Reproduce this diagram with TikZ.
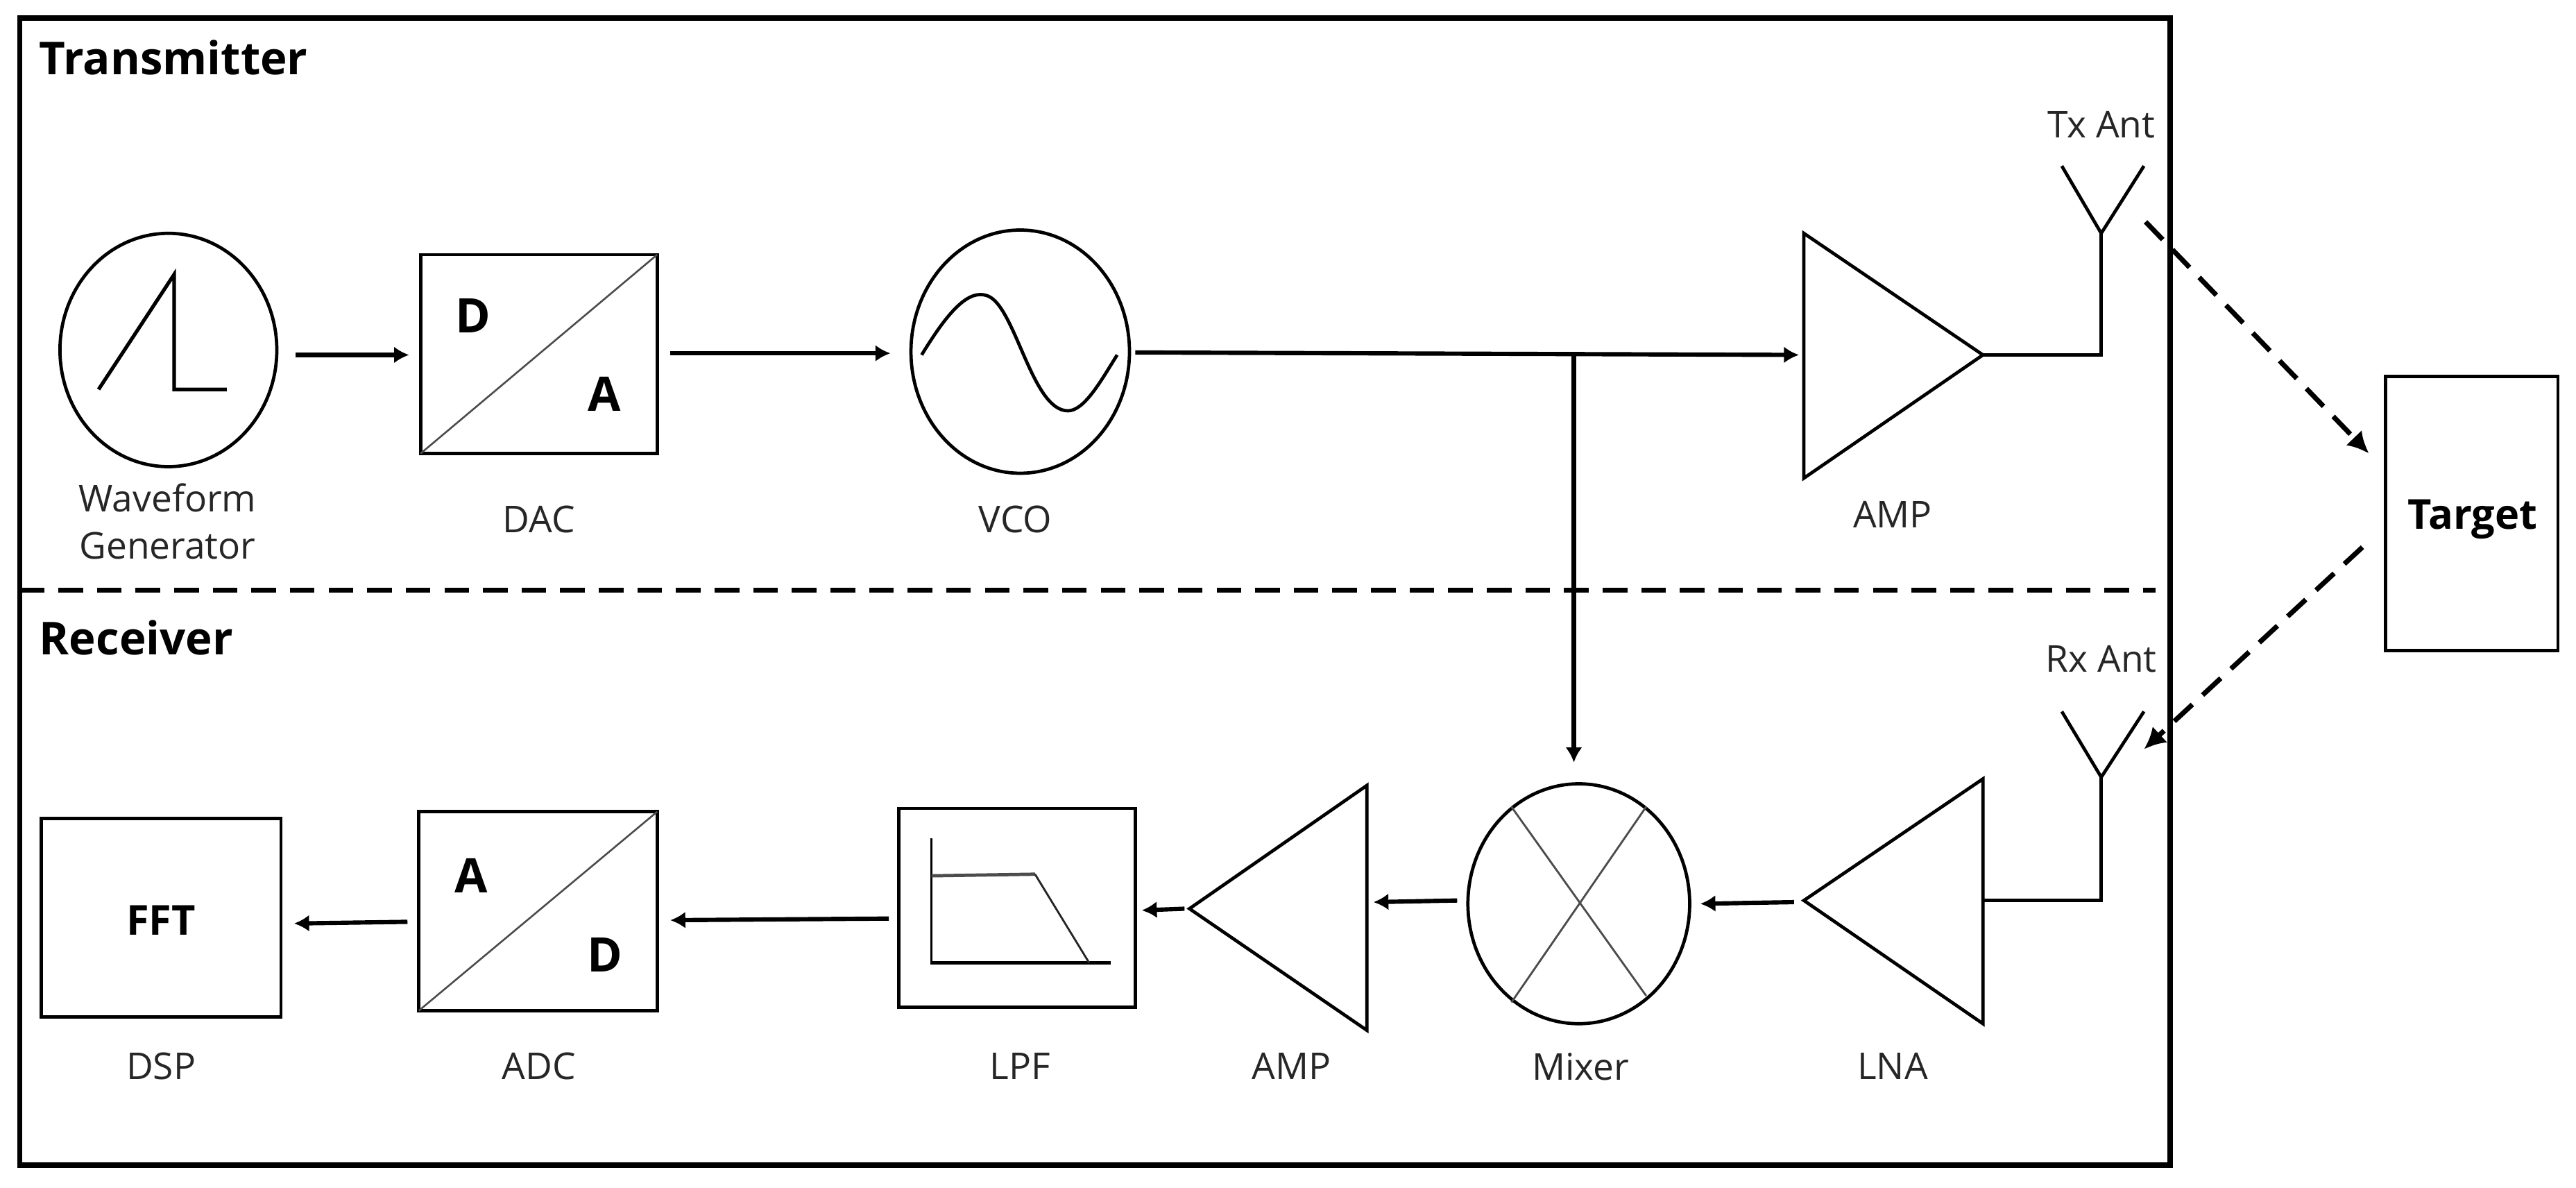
\documentclass[tikz,border=0pt]{standalone}
\usepackage{fontspec}
\setmainfont{Open Sans}
\usetikzlibrary{arrows.meta,shapes.geometric}
\newlength{\un}\setlength{\un}{0.02cm}
\tikzset{
  x=0.02cm,y=-0.02cm,
  shp/.style={draw=black,line width=2\un,inner sep=0pt,outer sep=0pt},
  thinln/.style={draw=black,line width=2\un,line join=miter},
  diag/.style={draw=black!70,line width=1.1\un},
  wire/.style={draw=black,line width=2.6\un,-{Latex[length=5.2pt,width=5.8pt]}},
  dashwire/.style={draw=black,line width=3\un,dash pattern=on 15\un off 8.5\un,-{Latex[length=7.5pt,width=7.5pt]}},
  lab/.style={inner sep=0pt,outer sep=0pt,font=\fontsize{12.8pt}{15pt}\selectfont,text=black!85},
  bold/.style={inner sep=0pt,outer sep=0pt,font=\fontsize{16.5pt}{18pt}\selectfont\bfseries},
  boldsm/.style={inner sep=0pt,outer sep=0pt,font=\fontsize{14.3pt}{16pt}\selectfont\bfseries},
  head/.style={inner sep=0pt,outer sep=0pt,anchor=west,font=\fontsize{15.7pt}{18pt}\selectfont\bfseries}
}
\begin{document}
\begin{tikzpicture}
\useasboundingbox (0,0) rectangle (1568,722.97);
\fill[white] (0,0) rectangle (1568,722.97);
% frame
\draw[line width=3.2\un] (12,11) rectangle (1321,709);
\coordinate (divL) at (12,359);
\coordinate (divR) at (1312,359);
\draw[line width=3\un,dash pattern=on 15\un off 8.5\un] (divL) -- (divR);
\node[head] (tx) at (24,35) {Transmitter};
\node[head] (rx) at (24,388) {Receiver};
% waveform generator
\node[shp,ellipse,minimum width=132\un,minimum height=142\un] (wg) at (102.5,213) {};
\draw[thinln,line width=2.2\un] (60,237) -- (106,167) -- (106,237) -- (138,237);
\node[lab] (wgl1) at (102,303) {Waveform};
\node[lab] (wgl2) at (102,332) {Generator};
% DAC
\node[shp,rectangle,minimum width=144\un,minimum height=121\un] (dac) at (328,215.5) {};
\draw[diag] (dac.south west) -- (dac.north east);
\node[bold] (dacd) at (288,192) {D};
\node[bold] (daca) at (368,240) {A};
\node[lab] (dacl) at (328,316) {DAC};
% VCO
\node[shp,ellipse,minimum width=133\un,minimum height=148\un] (vco) at (621,214) {};
\draw[thinln] (561,216) .. controls (578,188) and (590,176) .. (601,180)
  .. controls (618,186) and (628,250) .. (650,250)
  .. controls (660,250) and (670,232) .. (680,216);
\node[lab] (vcol) at (618,316) {VCO};
% AMP tx
\coordinate (a1a) at (1098,142);
\coordinate (a1b) at (1098,291);
\coordinate (a1o) at (1207,216);
\draw[thinln] (a1a) -- (a1o) -- (a1b) -- cycle;
\node[lab] (a1l) at (1152,313) {AMP};
% Tx antenna
\coordinate (txb) at (1279,142);
\draw[thinln] (a1o) -- (1279,216) -- (txb);
\draw[thinln] (1255,101) -- (txb) -- (1305,101);
\node[lab] (txl) at (1279,76) {Tx Ant};
% target
\node[shp,rectangle,minimum width=105\un,minimum height=167\un] (tgt) at (1504.5,312.5) {};
\node[boldsm] (tgtl) at (1505,316) {Target};
% Rx antenna
\coordinate (rxb) at (1279,473);
\draw[thinln] (1255,433) -- (rxb) -- (1305,433);
\node[lab] (rxl) at (1279,401) {Rx Ant};
% LNA
\coordinate (l1a) at (1207,474);
\coordinate (l1b) at (1207,623);
\coordinate (l1o) at (1207,548);
\coordinate (l1i) at (1098,548);
\draw[thinln] (l1a) -- (l1i) -- (l1b) -- cycle;
\draw[thinln] (rxb) -- (1279,548) -- (l1o);
\node[lab] (lnal) at (1152,649) {LNA};
% Mixer
\node[shp,ellipse,minimum width=135\un,minimum height=146\un] (mix) at (961,550) {};
\draw[diag,line width=1.2\un] (920,491) -- (1002,606);
\draw[diag,line width=1.2\un] (1002,491) -- (920,610);
\node[lab] (mixl) at (962,649) {Mixer};
% AMP rx
\coordinate (a2a) at (832,478);
\coordinate (a2b) at (832,627);
\coordinate (a2o) at (724,553);
\draw[thinln] (a2a) -- (a2o) -- (a2b) -- cycle;
\node[lab] (a2l) at (786,649) {AMP};
% LPF
\node[shp,rectangle,minimum width=144\un,minimum height=121\un] (lpf) at (619,552.5) {};
\draw[draw=black,line width=1.2\un] (567,510) -- (567,586);
\draw[draw=black,line width=2\un] (566.5,586) -- (676,586);
\draw[draw=black!70,line width=2\un] (567,533) -- (630,532);
\draw[draw=black!85,line width=1.2\un] (630,532) -- (663,586);
\node[lab] (lpfl) at (621,649) {LPF};
% ADC
\node[shp,rectangle,minimum width=145\un,minimum height=121\un] (adc) at (327.5,554.5) {};
\draw[diag] (adc.south west) -- (adc.north east);
\node[bold] (adca) at (287,533) {A};
\node[bold] (adcd) at (368,581) {D};
\node[lab] (adcl) at (328,649) {ADC};
% DSP
\node[shp,rectangle,minimum width=146\un,minimum height=121\un] (dsp) at (98,558.5) {};
\node[boldsm] (fft) at (98,560) {FFT};
\node[lab] (dspl) at (98,649) {DSP};
% arrow end points
\coordinate (w1) at (180,216); \coordinate (w2) at (249,216);
\coordinate (w3) at (408,215); \coordinate (w4) at (542,215);
\coordinate (w5) at (691,214.5); \coordinate (w6) at (1095,216);
\coordinate (j) at (958,216); \coordinate (w7) at (958,464);
\coordinate (t1) at (1306,135); \coordinate (t2) at (1442,276);
\coordinate (t3) at (1438,333); \coordinate (t4) at (1305,456);
\coordinate (r1) at (1092,549); \coordinate (r2) at (1035,550);
\coordinate (r3) at (887,548); \coordinate (r4) at (836,549);
\coordinate (r5) at (721,553); \coordinate (r6) at (695,554);
\coordinate (r7) at (541,559); \coordinate (r8) at (408,560);
\coordinate (r9) at (248,561); \coordinate (r10) at (179,562);
% connectors
\draw[wire] (w1) -- (w2);
\draw[wire] (w3) -- (w4);
\draw[wire] (w5) -- (w6);
\draw[wire] (j) -- (w7);
\draw[dashwire] (t1) -- (t2);
\draw[dashwire] (t3) -- (t4);
\draw[wire] (r1) -- (r2);
\draw[wire] (r3) -- (r4);
\draw[wire] (r5) -- (r6);
\draw[wire] (r7) -- (r8);
\draw[wire] (r9) -- (r10);
\end{tikzpicture}
\end{document}
